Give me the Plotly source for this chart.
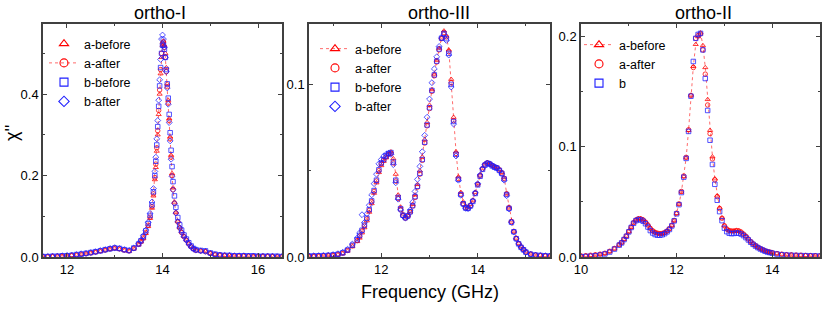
import plotly.graph_objects as go

# ---------------- data ----------------
# ortho-I (panel 1)
F_I = [11.5, 11.6, 11.7, 11.8, 11.9, 12.0, 12.1, 12.2, 12.3, 12.4, 12.5, 12.6, 12.7, 12.8, 12.9, 13.0, 13.1, 13.2, 13.3, 13.4, 13.5,
       13.55, 13.6, 13.65, 13.7, 13.74, 13.78, 13.81, 13.84, 13.86, 13.88,
       13.9, 13.92, 13.94, 13.96, 13.98, 14.0, 14.02, 14.04, 14.06, 14.08,
       14.1, 14.12, 14.14, 14.16, 14.18, 14.2, 14.22, 14.25, 14.28, 14.32,
       14.36, 14.4, 14.45, 14.5, 14.55, 14.6, 14.65, 14.7, 14.8, 14.9,
       15.0, 15.1, 15.2, 15.3, 15.4, 15.5, 15.6, 15.7, 15.8, 15.9, 16.0, 16.1, 16.2, 16.3, 16.4, 16.5]
I_A_BEFORE = [0.001, 0.001, 0.0015, 0.002, 0.002, 0.003, 0.004, 0.005, 0.006, 0.008, 0.010, 0.012, 0.014, 0.017, 0.019, 0.021, 0.019, 0.016, 0.014, 0.020, 0.030,
              0.037, 0.045, 0.058, 0.075, 0.095, 0.120, 0.150, 0.190, 0.220, 0.260,
              0.300, 0.350, 0.400, 0.450, 0.490, 0.520, 0.530, 0.520, 0.500, 0.465,
              0.425, 0.385, 0.340, 0.295, 0.250, 0.205, 0.170, 0.135, 0.110, 0.088,
              0.073, 0.062, 0.051, 0.042, 0.033, 0.026, 0.020, 0.017, 0.015, 0.014,
              0.009, 0.006, 0.005, 0.004, 0.004, 0.003, 0.003, 0.003, 0.003, 0.002, 0.002, 0.002, 0.002, 0.002, 0.001, 0.001]
I_A_AFTER = [0.001, 0.0012, 0.0015, 0.002, 0.0025, 0.003, 0.004, 0.005, 0.007, 0.008, 0.010, 0.012, 0.015, 0.017, 0.020, 0.022, 0.020, 0.017, 0.015, 0.021, 0.031,
             0.038, 0.047, 0.060, 0.078, 0.098, 0.124, 0.155, 0.195, 0.228, 0.268,
             0.310, 0.360, 0.410, 0.460, 0.500, 0.525, 0.528, 0.515, 0.490, 0.455,
             0.418, 0.378, 0.335, 0.290, 0.245, 0.200, 0.165, 0.132, 0.108, 0.086,
             0.071, 0.060, 0.050, 0.041, 0.032, 0.025, 0.020, 0.016, 0.015, 0.013,
             0.009, 0.006, 0.005, 0.004, 0.003, 0.003, 0.003, 0.003, 0.002, 0.002, 0.002, 0.002, 0.002, 0.001, 0.001, 0.001]
I_B_BEFORE = [0.001, 0.001, 0.002, 0.002, 0.003, 0.003, 0.004, 0.006, 0.007, 0.009, 0.011, 0.013, 0.015, 0.018, 0.020, 0.022, 0.021, 0.018, 0.016, 0.022, 0.032,
              0.040, 0.050, 0.064, 0.082, 0.102, 0.128, 0.160, 0.200, 0.235, 0.275,
              0.320, 0.370, 0.420, 0.465, 0.500, 0.520, 0.520, 0.510, 0.490, 0.460,
              0.425, 0.390, 0.350, 0.305, 0.262, 0.222, 0.185, 0.150, 0.122, 0.097,
              0.079, 0.066, 0.054, 0.044, 0.035, 0.027, 0.021, 0.018, 0.016, 0.015,
              0.010, 0.007, 0.005, 0.004, 0.004, 0.003, 0.003, 0.003, 0.003, 0.003, 0.002, 0.002, 0.002, 0.002, 0.002, 0.001]
I_B_AFTER = [0.001, 0.0015, 0.002, 0.002, 0.003, 0.004, 0.005, 0.006, 0.008, 0.009, 0.011, 0.013, 0.016, 0.018, 0.021, 0.023, 0.021, 0.018, 0.016, 0.022, 0.033,
             0.041, 0.052, 0.066, 0.085, 0.107, 0.135, 0.168, 0.210, 0.245, 0.290,
             0.335, 0.385, 0.435, 0.485, 0.535, 0.545, 0.535, 0.515, 0.490, 0.455,
             0.415, 0.375, 0.330, 0.285, 0.240, 0.198, 0.165, 0.132, 0.108, 0.087,
             0.072, 0.061, 0.050, 0.041, 0.032, 0.025, 0.020, 0.017, 0.015, 0.014,
             0.009, 0.006, 0.005, 0.004, 0.004, 0.003, 0.003, 0.003, 0.002, 0.002, 0.002, 0.002, 0.002, 0.002, 0.001, 0.001]

# ortho-III (panel 2)
F_III = [10.5, 10.6, 10.7, 10.8, 10.9, 11.0, 11.1, 11.2, 11.3, 11.4,
         11.5, 11.55, 11.6, 11.65, 11.7, 11.75, 11.8, 11.85, 11.9, 11.95,
         12.0, 12.05, 12.1, 12.15, 12.2, 12.25, 12.3, 12.35, 12.4, 12.45,
         12.5, 12.55, 12.6, 12.65, 12.7, 12.75, 12.8, 12.85, 12.9, 12.95,
         13.0, 13.05, 13.1, 13.15, 13.2, 13.25, 13.3, 13.35, 13.4, 13.45,
         13.5, 13.55, 13.6, 13.65, 13.7, 13.75, 13.8, 13.85, 13.9, 13.95,
         14.0, 14.05, 14.1, 14.15, 14.2, 14.25, 14.3, 14.35, 14.4, 14.45,
         14.5, 14.55, 14.6, 14.65, 14.7, 14.75, 14.8, 14.85, 14.9, 14.95,
         15.0, 15.1, 15.2, 15.3, 15.4, 15.5]
III_A_BEFORE = [0.0005, 0.0005, 0.0006, 0.0007, 0.0008, 0.0010, 0.0013, 0.0020, 0.0035, 0.0060,
                0.0090, 0.0110, 0.0140, 0.0170, 0.0210, 0.0260, 0.0310, 0.0370, 0.0430, 0.0490,
                0.0530, 0.0555, 0.0575, 0.0595, 0.0610, 0.0570, 0.0480, 0.0360, 0.0290, 0.0250,
                0.0232, 0.0240, 0.0265, 0.0305, 0.0360, 0.0420, 0.0500, 0.0580, 0.0680, 0.0780,
                0.0880, 0.0970, 0.1060, 0.1140, 0.1210, 0.1270, 0.1310, 0.1280, 0.1200, 0.1030,
                0.0810, 0.0610, 0.0465, 0.0375, 0.0320, 0.0295, 0.0290, 0.0305, 0.0330, 0.0375,
                0.0425, 0.0475, 0.0515, 0.0540, 0.0548, 0.0540, 0.0532, 0.0525, 0.0520, 0.0508,
                0.0490, 0.0460, 0.0370, 0.0290, 0.0210, 0.0150, 0.0110, 0.0080, 0.0060, 0.0045,
                0.0030, 0.0018, 0.0013, 0.0010, 0.0008, 0.0007]
III_A_AFTER = [0.0004, 0.0005, 0.0006, 0.0007, 0.0009, 0.0011, 0.0015, 0.0022, 0.0038, 0.0065,
               0.0095, 0.0120, 0.0150, 0.0180, 0.0220, 0.0270, 0.0320, 0.0380, 0.0440, 0.0500,
               0.0540, 0.0560, 0.0580, 0.0595, 0.0600, 0.0545, 0.0440, 0.0340, 0.0275, 0.0240,
               0.0225, 0.0235, 0.0260, 0.0295, 0.0345, 0.0405, 0.0480, 0.0560, 0.0660, 0.0760,
               0.0860, 0.0960, 0.1050, 0.1130, 0.1200, 0.1265, 0.1300, 0.1275, 0.1190, 0.1010,
               0.0790, 0.0600, 0.0455, 0.0365, 0.0310, 0.0285, 0.0283, 0.0298, 0.0325, 0.0370,
               0.0420, 0.0470, 0.0510, 0.0535, 0.0545, 0.0540, 0.0530, 0.0522, 0.0518, 0.0505,
               0.0488, 0.0455, 0.0365, 0.0285, 0.0205, 0.0148, 0.0108, 0.0078, 0.0058, 0.0043,
               0.0029, 0.0017, 0.0012, 0.0009, 0.0008, 0.0006]
III_B_BEFORE = [0.0006, 0.0006, 0.0007, 0.0008, 0.0009, 0.0012, 0.0016, 0.0024, 0.0040, 0.0068,
                0.0100, 0.0125, 0.0155, 0.0185, 0.0225, 0.0275, 0.0325, 0.0385, 0.0445, 0.0505,
                0.0545, 0.0565, 0.0585, 0.0600, 0.0605, 0.0550, 0.0445, 0.0345, 0.0280, 0.0242,
                0.0228, 0.0238, 0.0262, 0.0298, 0.0350, 0.0410, 0.0485, 0.0565, 0.0665, 0.0765,
                0.0865, 0.0965, 0.1055, 0.1135, 0.1205, 0.1268, 0.1295, 0.1265, 0.1180, 0.1000,
                0.0785, 0.0595, 0.0450, 0.0362, 0.0308, 0.0284, 0.0282, 0.0296, 0.0322, 0.0368,
                0.0418, 0.0468, 0.0508, 0.0532, 0.0542, 0.0538, 0.0528, 0.0520, 0.0515, 0.0502,
                0.0485, 0.0452, 0.0362, 0.0282, 0.0202, 0.0146, 0.0106, 0.0076, 0.0056, 0.0042,
                0.0028, 0.0016, 0.0011, 0.0009, 0.0007, 0.0006]
III_B_AFTER = [0.0006, 0.0007, 0.0008, 0.0009, 0.0011, 0.0014, 0.0019, 0.0028, 0.0045, 0.0075,
               0.0110, 0.0140, 0.0245, 0.0200, 0.0250, 0.0300, 0.0360, 0.0425, 0.0480, 0.0540,
               0.0565, 0.0585, 0.0595, 0.0600, 0.0595, 0.0535, 0.0430, 0.0335, 0.0272, 0.0238,
               0.0226, 0.0240, 0.0272, 0.0318, 0.0380, 0.0450, 0.0525, 0.0610, 0.0705, 0.0810,
               0.0915, 0.1010, 0.1090, 0.1160, 0.1220, 0.1270, 0.1290, 0.1255, 0.1170, 0.0985,
               0.0770, 0.0585, 0.0445, 0.0358, 0.0305, 0.0282, 0.0280, 0.0295, 0.0325, 0.0372,
               0.0425, 0.0475, 0.0512, 0.0535, 0.0545, 0.0540, 0.0530, 0.0522, 0.0516, 0.0500,
               0.0480, 0.0445, 0.0355, 0.0278, 0.0200, 0.0145, 0.0105, 0.0076, 0.0056, 0.0042,
               0.0028, 0.0016, 0.0011, 0.0009, 0.0007, 0.0006]

# ortho-II (panel 3)
F_II = [10.0, 10.1, 10.2, 10.3, 10.4, 10.5, 10.6, 10.7,
        10.8, 10.85, 10.9, 10.95, 11.0, 11.05, 11.1, 11.15, 11.2, 11.25,
        11.3, 11.35, 11.4, 11.45, 11.5, 11.55, 11.6, 11.65, 11.7, 11.75,
        11.8, 11.85, 11.9, 11.95, 12.0, 12.05, 12.1, 12.15, 12.2, 12.25,
        12.3, 12.35, 12.4, 12.45, 12.5, 12.55, 12.6, 12.65, 12.7, 12.75,
        12.8, 12.85, 12.9, 12.95, 13.0, 13.05, 13.1, 13.15, 13.2, 13.25,
        13.3, 13.35, 13.4, 13.45, 13.5, 13.55, 13.6, 13.65, 13.7, 13.75,
        13.8, 13.85, 13.9, 13.95, 14.0,
        14.1, 14.2, 14.3, 14.4, 14.5, 14.6, 14.7, 14.8, 14.9, 15.0]
II_A_BEFORE = [0.0010, 0.0012, 0.0015, 0.0020, 0.0025, 0.0033, 0.0050, 0.0075,
               0.0110, 0.0130, 0.0160, 0.0190, 0.0230, 0.0270, 0.0310, 0.0338, 0.0350, 0.0350,
               0.0340, 0.0320, 0.0292, 0.0262, 0.0240, 0.0225, 0.0215, 0.0210, 0.0212, 0.0220,
               0.0235, 0.0255, 0.0285, 0.0330, 0.0395, 0.0480, 0.0590, 0.0730, 0.0900, 0.1150,
               0.1470, 0.1730, 0.1930, 0.2000, 0.2035, 0.1920, 0.1720, 0.1430, 0.1150, 0.0910,
               0.0710, 0.0555, 0.0445, 0.0355, 0.0285, 0.0255, 0.0240, 0.0235, 0.0235, 0.0240,
               0.0238, 0.0228, 0.0210, 0.0190, 0.0165, 0.0142, 0.0122, 0.0105, 0.0090, 0.0078,
               0.0068, 0.0058, 0.0050, 0.0045, 0.0040,
               0.0032, 0.0026, 0.0022, 0.0020, 0.0018, 0.0016, 0.0015, 0.0013, 0.0012, 0.0011]
II_A_AFTER = [0.0010, 0.0012, 0.0016, 0.0020, 0.0026, 0.0034, 0.0052, 0.0078,
              0.0112, 0.0132, 0.0162, 0.0192, 0.0232, 0.0272, 0.0312, 0.0336, 0.0346, 0.0345,
              0.0336, 0.0316, 0.0290, 0.0260, 0.0238, 0.0224, 0.0216, 0.0212, 0.0214, 0.0222,
              0.0236, 0.0258, 0.0288, 0.0332, 0.0398, 0.0482, 0.0595, 0.0735, 0.0905, 0.1155,
              0.1465, 0.1720, 0.1985, 0.2010, 0.2025, 0.1880, 0.1660, 0.1380, 0.1120, 0.0890,
              0.0700, 0.0548, 0.0440, 0.0352, 0.0284, 0.0254, 0.0240, 0.0236, 0.0236, 0.0240,
              0.0237, 0.0226, 0.0208, 0.0188, 0.0163, 0.0140, 0.0120, 0.0104, 0.0089, 0.0077,
              0.0067, 0.0057, 0.0049, 0.0044, 0.0039,
              0.0031, 0.0025, 0.0021, 0.0019, 0.0017, 0.0016, 0.0014, 0.0013, 0.0012, 0.0011]
II_B = [0.0003, 0.0005, 0.0008, 0.0012, 0.0018, 0.0028, 0.0045, 0.0072,
        0.0108, 0.0128, 0.0158, 0.0188, 0.0228, 0.0268, 0.0306, 0.0330, 0.0340, 0.0336,
        0.0325, 0.0302, 0.0272, 0.0240, 0.0218, 0.0204, 0.0198, 0.0198, 0.0202, 0.0212,
        0.0228, 0.0250, 0.0282, 0.0328, 0.0392, 0.0475, 0.0585, 0.0725, 0.0895, 0.1140,
        0.1460, 0.1775, 0.1985, 0.2020, 0.2030, 0.1880, 0.1620, 0.1330, 0.1060, 0.0840,
        0.0660, 0.0515, 0.0412, 0.0330, 0.0262, 0.0230, 0.0216, 0.0212, 0.0214, 0.0218,
        0.0216, 0.0208, 0.0194, 0.0176, 0.0155, 0.0134, 0.0115, 0.0099, 0.0085, 0.0073,
        0.0063, 0.0053, 0.0045, 0.0040, 0.0035,
        0.0027, 0.0021, 0.0018, 0.0016, 0.0014, 0.0013, 0.0012, 0.0011, 0.0010, 0.0009]

PANEL_TITLES = ["ortho-I", "ortho-III", "ortho-II"]
X_TITLE = "Frequency (GHz)"
Y_TITLE = "χ''"

# ---------------- style ----------------
FONT = "Liberation Sans, Arial, Helvetica, sans-serif"
RED = "rgb(255,0,0)"
BLUE = "rgb(30,30,255)"
LINE_RED = "rgba(255,70,70,0.8)"

fig = go.Figure()


def add_series(xs, ys, ax, name, symbol, color, legend, with_line):
    mode = "lines+markers" if with_line else "markers"
    line = dict(color=LINE_RED, width=1, dash="dot")
    fig.add_trace(go.Scatter(
        x=xs, y=ys, mode=mode, xaxis="x" + ax, yaxis="y" + ax,
        marker=dict(symbol=symbol, size=4.5, color=color, opacity=0.85,
                    line=dict(width=0.9, color=color)),
        line=line, showlegend=False, hoverinfo="skip"))
    # legend entry (larger symbol, no data)
    fig.add_trace(go.Scatter(
        x=[None], y=[None], mode=mode, xaxis="x" + ax, yaxis="y" + ax, name=name,
        marker=dict(symbol=symbol, size=8, color=color, line=dict(width=1.1, color=color)),
        line=line, legend=legend, showlegend=True))


# panel 1: ortho-I (line on a-after)
add_series(F_I, I_A_BEFORE, "", "a-before", "triangle-up-open", RED, "legend", False)
add_series(F_I, I_A_AFTER, "", "a-after", "circle-open", RED, "legend", True)
add_series(F_I, I_B_BEFORE, "", "b-before", "square-open", BLUE, "legend", False)
add_series(F_I, I_B_AFTER, "", "b-after", "diamond-open", BLUE, "legend", False)
# panel 2: ortho-III (line on a-before)
add_series(F_III, III_A_BEFORE, "2", "a-before", "triangle-up-open", RED, "legend2", True)
add_series(F_III, III_A_AFTER, "2", "a-after", "circle-open", RED, "legend2", False)
add_series(F_III, III_B_BEFORE, "2", "b-before", "square-open", BLUE, "legend2", False)
add_series(F_III, III_B_AFTER, "2", "b-after", "diamond-open", BLUE, "legend2", False)
# panel 3: ortho-II
add_series(F_II, II_A_BEFORE, "3", "a-before", "triangle-up-open", RED, "legend3", True)
add_series(F_II, II_A_AFTER, "3", "a-after", "circle-open", RED, "legend3", False)
add_series(F_II, II_B, "3", "b", "square-open", BLUE, "legend3", False)

W, H = 830, 310
top_px, bot_px = 24, 257
ydom = [1 - bot_px / H, 1 - top_px / H]
panels = [(43, 282, [11.5, 16.5], [0, 0.572], 0.2, 0.1),
          (309, 550, [10.5, 15.5], [0, 0.135], 0.1, 0.05),
          (581, 820, [10.0, 15.0], [0, 0.2115], 0.1, 0.05)]

axcommon = dict(showline=True, linecolor="#404040", linewidth=1.5, mirror="allticks",
                ticks="inside", ticklen=4, tickwidth=1, tickcolor="#404040",
                showgrid=False, zeroline=False, automargin=False,
                tickfont=dict(family=FONT, size=13, color="black"))

layout = dict(template="none", width=W, height=H, margin=dict(l=0, r=0, t=0, b=0, pad=0),
              paper_bgcolor="white", plot_bgcolor="white",
              font=dict(family=FONT, color="black"))
for i, (x0, x1, xr, yr, ydt, ymn) in enumerate(panels):
    s = "" if i == 0 else str(i + 1)
    layout["xaxis" + s] = dict(axcommon, domain=[x0 / W, x1 / W], range=xr, anchor="y" + s,
                               tick0=0, dtick=2,
                               minor=dict(ticks="inside", ticklen=2.5, dtick=1, tick0=0,
                                          tickcolor="#404040", showgrid=False))
    layout["yaxis" + s] = dict(axcommon, domain=ydom, range=yr, anchor="x" + s,
                               tick0=0, dtick=ydt, tickformat=".1f",
                               minor=dict(ticks="inside", ticklen=2.5, dtick=ymn, tick0=0,
                                          tickcolor="#404040", showgrid=False))

legstyle = dict(bgcolor="rgba(0,0,0,0)", borderwidth=0, font=dict(family=FONT, size=12.5),
                xanchor="left", yanchor="top", tracegroupgap=0)
layout["legend"] = dict(legstyle, x=44 / W, y=1 - 29 / H)
layout["legend2"] = dict(legstyle, x=315 / W, y=1 - 34 / H)
layout["legend3"] = dict(legstyle, x=579 / W, y=1 - 30 / H)

annotations = []
for title, cx in zip(PANEL_TITLES, [160, 439, 703]):
    annotations.append(dict(text=title, x=cx / W, y=1 - 13 / H, xref="paper", yref="paper",
                            showarrow=False, xanchor="center", yanchor="middle",
                            font=dict(family=FONT, size=18, color="black")))
annotations.append(dict(text=X_TITLE, x=430 / W, y=1 - 292 / H, xref="paper", yref="paper",
                        showarrow=False, xanchor="center", yanchor="middle",
                        font=dict(family=FONT, size=18, color="black")))
annotations.append(dict(text=Y_TITLE, x=12 / W, y=1 - 133 / H, xref="paper", yref="paper",
                        showarrow=False, xanchor="center", yanchor="middle", textangle=-90,
                        font=dict(family=FONT, size=18, color="black")))
layout["annotations"] = annotations

fig.update_layout(**layout)
fig.write_html("out.html", config={"displayModeBar": False},
               post_script="document.body.style.margin='0';document.body.style.overflow='hidden';")
